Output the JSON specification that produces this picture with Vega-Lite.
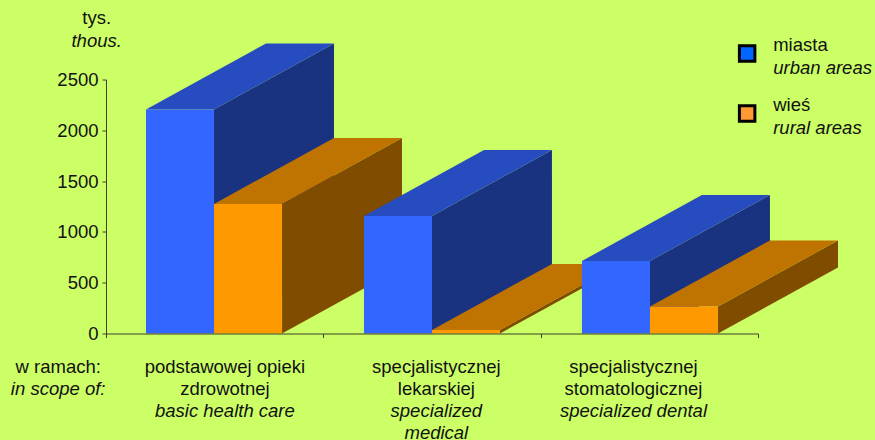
{
"$schema":"https://vega.github.io/schema/vega-lite/v6.json",
"width":652,"height":254,
"autosize":{"type":"none"},
"padding":{"left":106,"top":79.5,"right":117,"bottom":106.5},
"background":"#CCFF66",
"config":{"view":{"stroke":null},"font":"Liberation Sans","text":{"font":"Liberation Sans","fontSize":18.5,"color":"#111111"}},
"datasets":{
"bars":[
{"zakres":"podstawowa","seria":"miasta","wartosc":2205},
{"zakres":"podstawowa","seria":"wies","wartosc":1275},
{"zakres":"lekarska","seria":"miasta","wartosc":1156},
{"zakres":"lekarska","seria":"wies","wartosc":35},
{"zakres":"stomatologiczna","seria":"miasta","wartosc":714},
{"zakres":"stomatologiczna","seria":"wies","wartosc":266}
],
"labels":[
{"t":"podstawowej opieki","x":0.547,"y":-325,"s":"r","a":"c"},
{"t":"zdrowotnej","x":0.547,"y":-545,"s":"r","a":"c"},
{"t":"basic health care","x":0.547,"y":-765,"s":"i","a":"c"},
{"t":"specjalistycznej","x":1.52,"y":-325,"s":"r","a":"c"},
{"t":"lekarskiej","x":1.52,"y":-545,"s":"r","a":"c"},
{"t":"specialized","x":1.52,"y":-765,"s":"i","a":"c"},
{"t":"medical","x":1.52,"y":-975,"s":"i","a":"c"},
{"t":"specjalistycznej","x":2.427,"y":-325,"s":"r","a":"c"},
{"t":"stomatologicznej","x":2.427,"y":-545,"s":"r","a":"c"},
{"t":"specialized dental","x":2.427,"y":-765,"s":"i","a":"c"},
{"t":"w ramach:","x":-0.22,"y":-325,"s":"r","a":"c"},
{"t":"in scope of:","x":-0.22,"y":-545,"s":"i","a":"c"},
{"t":"tys.","x":-0.043,"y":3110,"s":"r","a":"c"},
{"t":"thous.","x":-0.043,"y":2880,"s":"i","a":"c"},
{"t":"miasta","x":3.07,"y":2840,"s":"r","a":"l"},
{"t":"urban areas","x":3.07,"y":2610,"s":"i","a":"l"},
{"t":"wieś","x":3.07,"y":2250,"s":"r","a":"l"},
{"t":"rural areas","x":3.07,"y":2020,"s":"i","a":"l"}
],
"legend":[
{"seria":"miasta","x":2.95,"y":2755},
{"seria":"wies","x":2.95,"y":2165}
]
},
"layer":[
{"data":{"name":"bars"},
"transform":[
{"calculate":"indexof(['podstawowa','lekarska','stomatologiczna'],datum.zakres)*1.003+(datum.seria=='miasta'?0.184:0.497)","as":"x0"},
{"calculate":"datum.x0+0.313","as":"x1"},
{"calculate":"[0,1]","as":"t"},
{"flatten":["t"]},
{"calculate":"datum.x1+datum.t*0.552","as":"xs"},
{"calculate":"datum.wartosc+datum.t*650","as":"ys"},
{"calculate":"datum.t*650","as":"ys2"},
{"calculate":"datum.x0+datum.t*0.552","as":"xt"}
],
"layer":[
{"mark":{"type":"area","clip":false},
"encoding":{
"x":{"field":"xs","type":"quantitative","scale":{"domain":[0,3],"nice":false},
"axis":{"values":[0,1,2,3],"labels":false,"title":null,"grid":false,"domainColor":"#404028","tickColor":"#404028","tickSize":4,"zindex":1}},
"y":{"field":"ys","type":"quantitative","stack":null,"scale":{"domain":[0,2500],"nice":false},
"axis":{"values":[0,500,1000,1500,2000,2500],"format":"d","title":null,"grid":false,"domainColor":"#404028","tickColor":"#404028","tickSize":4,"labelFontSize":18.5,"labelFont":"Liberation Sans","labelColor":"#111111","labelPadding":4,"zindex":1}},
"y2":{"field":"ys2"},
"detail":{"field":"zakres"},
"color":{"field":"seria","type":"nominal","legend":null,"scale":{"domain":["miasta","wies"],"range":["#1A3380","#804D00"]}}
}},
{"mark":{"type":"area","orient":"horizontal"},
"encoding":{
"y":{"field":"ys","type":"quantitative","stack":null},
"x":{"field":"xt","type":"quantitative"},
"x2":{"field":"xs"},
"detail":{"field":"zakres"},
"color":{"field":"seria","type":"nominal","legend":null,"scale":{"domain":["miasta","wies"],"range":["#264CBF","#BF7300"]}}
}},
{"transform":[{"filter":"datum.t==0"}],
"mark":{"type":"rect"},
"encoding":{
"x":{"field":"x0","type":"quantitative"},
"x2":{"field":"x1"},
"y":{"field":"wartosc","type":"quantitative","stack":null},
"y2":{"datum":0},
"color":{"field":"seria","type":"nominal","legend":null,"scale":{"domain":["miasta","wies"],"range":["#3366FF","#FF9900"]}}
}}
],
"resolve":{"scale":{"color":"independent"}}
},
{"data":{"name":"legend"},
"mark":{"type":"square","size":240,"opacity":1,"stroke":"#000000","strokeWidth":3,"filled":true},
"encoding":{
"x":{"field":"x","type":"quantitative"},
"y":{"field":"y","type":"quantitative"},
"fill":{"field":"seria","type":"nominal","legend":null,"scale":{"domain":["miasta","wies"],"range":["#0066FF","#FF9933"]}}
}},
{"data":{"name":"labels"},"transform":[{"filter":"datum.s=='r'&&datum.a=='c'"}],
"mark":{"type":"text","align":"center","baseline":"middle"},
"encoding":{"x":{"field":"x","type":"quantitative"},"y":{"field":"y","type":"quantitative"},"text":{"field":"t"}}},
{"data":{"name":"labels"},"transform":[{"filter":"datum.s=='i'&&datum.a=='c'"}],
"mark":{"type":"text","align":"center","baseline":"middle","fontStyle":"italic"},
"encoding":{"x":{"field":"x","type":"quantitative"},"y":{"field":"y","type":"quantitative"},"text":{"field":"t"}}},
{"data":{"name":"labels"},"transform":[{"filter":"datum.s=='r'&&datum.a=='l'"}],
"mark":{"type":"text","align":"left","baseline":"middle"},
"encoding":{"x":{"field":"x","type":"quantitative"},"y":{"field":"y","type":"quantitative"},"text":{"field":"t"}}},
{"data":{"name":"labels"},"transform":[{"filter":"datum.s=='i'&&datum.a=='l'"}],
"mark":{"type":"text","align":"left","baseline":"middle","fontStyle":"italic"},
"encoding":{"x":{"field":"x","type":"quantitative"},"y":{"field":"y","type":"quantitative"},"text":{"field":"t"}}}
],
"resolve":{"scale":{"color":"independent"}}
}
